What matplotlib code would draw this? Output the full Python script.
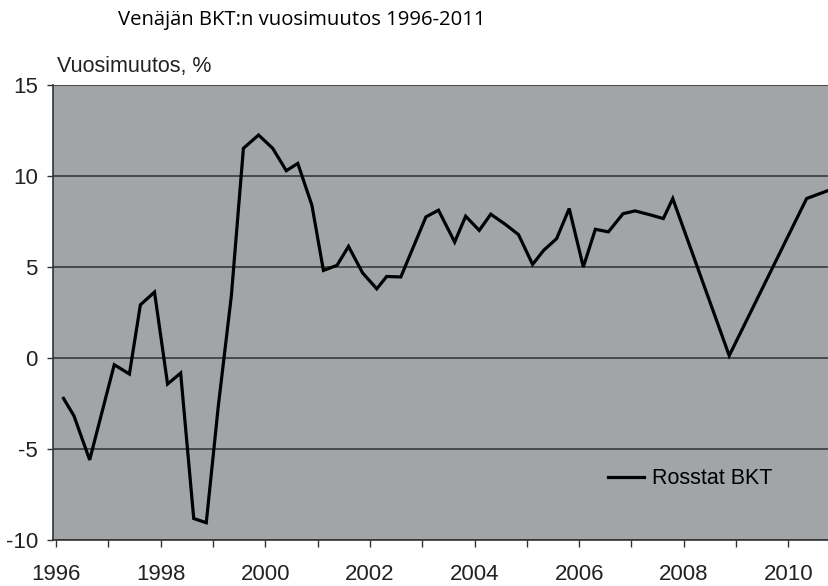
import matplotlib.pyplot as plt

# Venäjän BKT:n vuosimuutos, luettu kuvasta (vuosi desimaalina, %)
years = [1996.14, 1996.34, 1996.64, 1997.11, 1997.40, 1997.61, 1997.88,
         1998.13, 1998.38, 1998.63, 1998.87, 1999.10, 1999.35, 1999.58,
         1999.87, 2000.14, 2000.40, 2000.62, 2000.89, 2001.11, 2001.37,
         2001.59, 2001.86, 2002.13, 2002.32, 2002.59, 2003.07, 2003.31,
         2003.62, 2003.83, 2004.09, 2004.31, 2004.59, 2004.84, 2005.11,
         2005.32, 2005.57, 2005.81, 2006.08, 2006.31, 2006.56, 2006.84,
         2007.07, 2007.34, 2007.61, 2007.79, 2008.87, 2010.35, 2010.78]
bkt = [-2.22, -3.18, -5.60, -0.37, -0.88, 2.92, 3.62,
       -1.43, -0.83, -8.82, -9.05, -2.64, 3.43, 11.52,
       12.25, 11.52, 10.29, 10.69, 8.39, 4.81, 5.09,
       6.13, 4.67, 3.80, 4.48, 4.45, 7.75, 8.12,
       6.37, 7.79, 7.01, 7.90, 7.34, 6.78, 5.14,
       5.91, 6.56, 8.21, 5.00, 7.07, 6.93, 7.93,
       8.08, 7.88, 7.66, 8.76, 0.13, 8.76, 9.22]

x_ticks = list(range(1996, 2012))
x_labels = [str(y) if y % 2 == 0 else "" for y in x_ticks]
y_ticks = [-10, -5, 0, 5, 10, 15]

title = "Venäjän BKT:n vuosimuutos 1996-2011"
y_title = "Vuosimuutos, %"
series_name = "Rosstat BKT"

plt.rcParams['font.family'] = ['Liberation Sans', 'DejaVu Sans']
plt.rcParams['axes.unicode_minus'] = False

fig = plt.figure(figsize=(8.29, 5.86), dpi=100)
ax = fig.add_axes([0.064, 0.0785, 0.95, 0.7765])
ax.set_facecolor('#a2a5a7')

ax.plot(years, bkt, color='black', lw=2.3, solid_joinstyle='miter', label=series_name)

ax.set_xlim(1995.94, 2011)
ax.set_ylim(-10, 15)
ax.set_xticks(x_ticks)
ax.set_xticklabels(x_labels)
ax.set_yticks(y_ticks)
ax.yaxis.grid(True, color='#3a3a3a', lw=1.2)
ax.set_axisbelow(True)

ax.tick_params(axis='x', length=5, width=1, color='#333333', pad=12, labelsize=16, labelcolor='#222222')
ax.tick_params(axis='y', length=4, width=1, color='#333333', pad=7, labelsize=16, labelcolor='#222222')

for side in ['top', 'right']:
    ax.spines[side].set_visible(False)
ax.spines['left'].set_color('#333333')
ax.spines['bottom'].set_color('#333333')
ax.spines['left'].set_linewidth(1.2)
ax.spines['bottom'].set_linewidth(1.2)

ax.legend(loc='center left', bbox_to_anchor=(0.68, 0.135), frameon=False,
          fontsize=15.5, handlelength=1.66, handletextpad=0.4)

fig.text(0.069, 0.886, y_title, fontsize=15.5, color='#222222', va='center', ha='left')
fig.text(0.142, 0.966, title, fontsize=14.6, color='black', va='center', ha='left',
         family=['Open Sans', 'DejaVu Sans'])

fig.savefig('out.png', dpi=100)
